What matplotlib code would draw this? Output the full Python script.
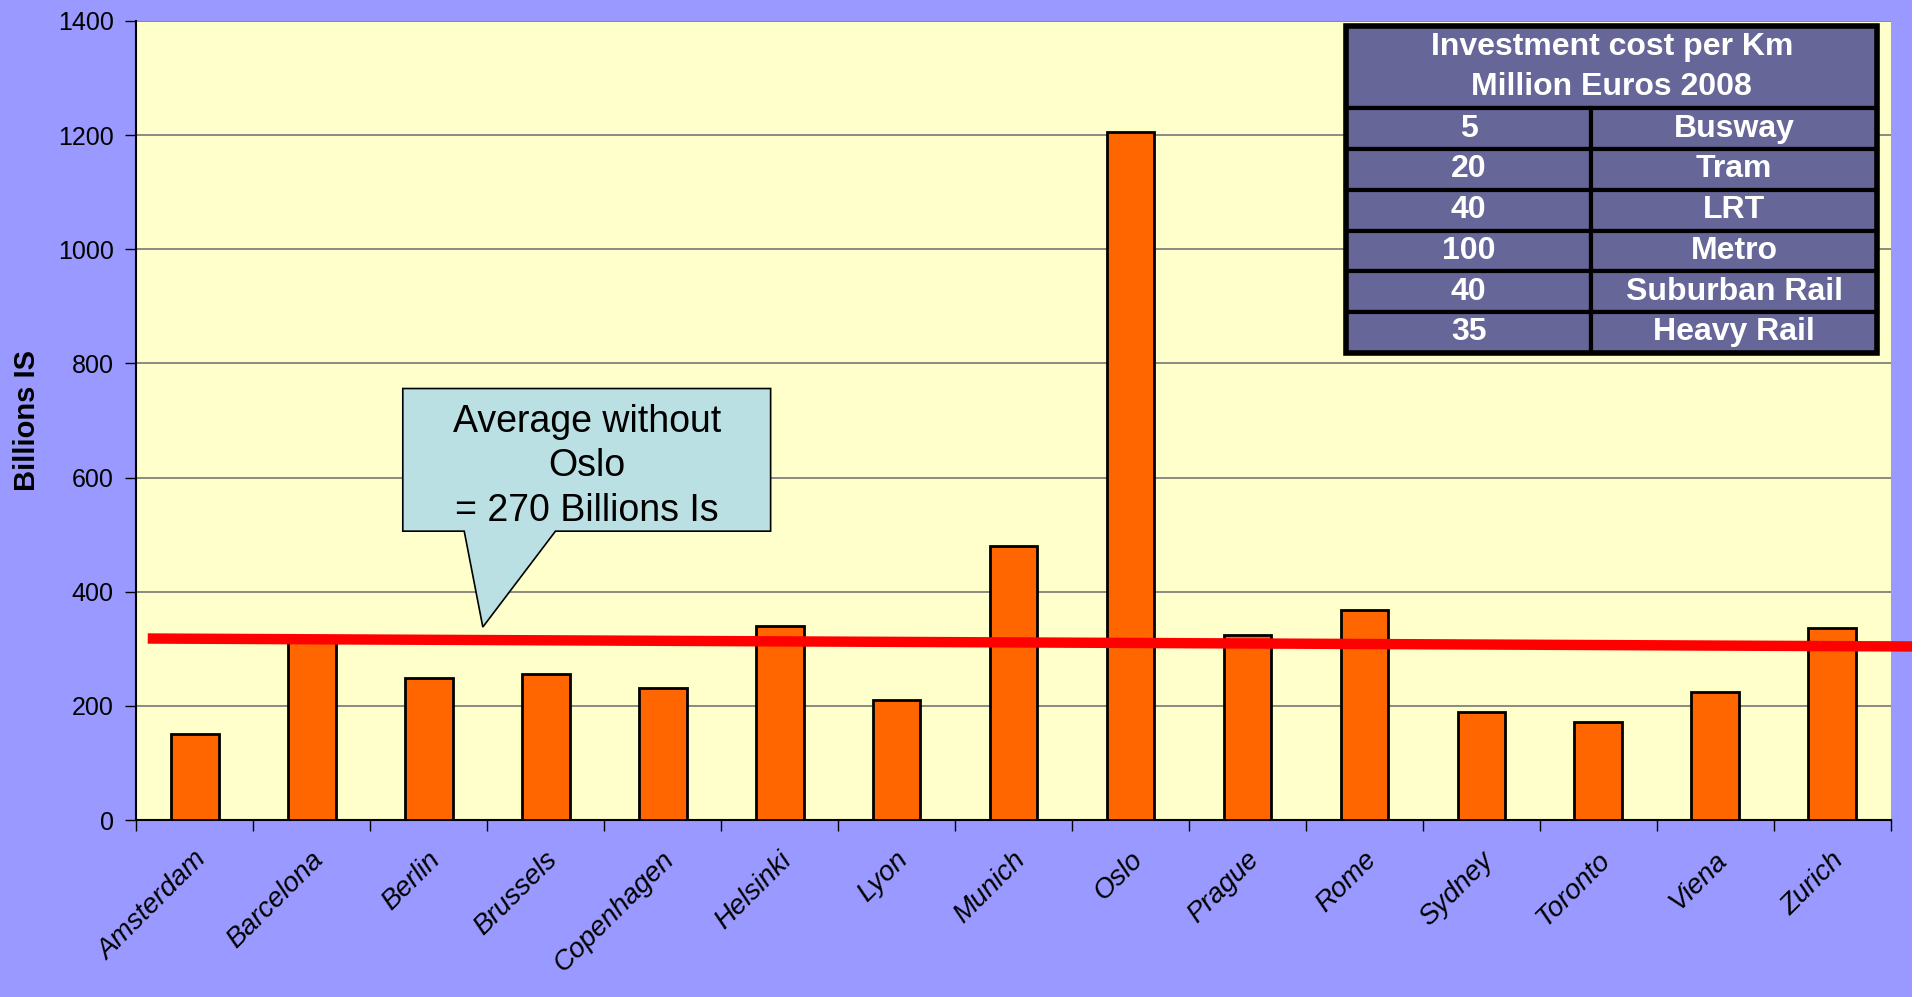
import numpy as np
import matplotlib
matplotlib.use('Agg')
import matplotlib.pyplot as plt
import matplotlib.transforms as mtrans
from matplotlib.patches import Polygon, Rectangle

plt.rcParams['font.family'] = ['Liberation Sans', 'DejaVu Sans']

# data
cities = ['Amsterdam', 'Barcelona', 'Berlin', 'Brussels', 'Copenhagen', 'Helsinki',
          'Lyon', 'Munich', 'Oslo', 'Prague', 'Rome', 'Sydney', 'Toronto', 'Viena', 'Zurich']
cost = [150, 320, 248, 256, 231, 340, 210, 480, 1205, 325, 368, 190, 172, 224, 336]

# hand drawn "average" line (slightly sloped in the original)
avg_x = [-0.4, 14.78]
avg_y = [318, 304]

table_head = 'Investment cost per Km\nMillion Euros 2008'
table_cost = ['5', '20', '40', '100', '40', '35']
table_mode = ['Busway', 'Tram', 'LRT', 'Metro', 'Suburban Rail', 'Heavy Rail']

callout_text = 'Average without\nOslo\n= 270 Billions Is'

fig = plt.figure(figsize=(19.27, 9.97), dpi=100, facecolor='#9999FF')
# white strip on the far right of the slide
fig.patches.append(Rectangle((0.9922, 0), 0.0078, 1, transform=fig.transFigure,
                             facecolor='white', edgecolor='none', zorder=0))
ax = fig.add_axes([0.0706, 0.1775, 0.9107, 0.8015])
ax.set_facecolor('#FFFFCC')

index = np.arange(len(cities))
ax.bar(index, cost, 0.41, color='#FF6600', edgecolor='black', linewidth=2, zorder=3)
ax.plot(avg_x, avg_y, color='#FF0000', linewidth=7.5, solid_capstyle='butt',
        clip_on=False, zorder=4)

ax.set_xlim(-0.5, len(cities) - 0.5)
ax.set_ylim(0, 1400)
ax.set_yticks(np.arange(0, 1401, 200))
ax.yaxis.grid(True, color='#777777', linewidth=1.2)
ax.set_axisbelow(True)
ax.tick_params(axis='y', labelsize=18, length=8, width=1, direction='out', pad=8)

ax.set_xticks(index)
ax.set_xticklabels(cities, rotation=45, ha='right', va='center', rotation_mode='anchor',
                   fontsize=20, style='italic')
ax.set_xticks(np.arange(-0.5, len(cities), 1), minor=True)
ax.tick_params(axis='x', which='major', length=0, pad=26)
ax.tick_params(axis='x', which='minor', length=8, width=1, direction='out')
offset = mtrans.ScaledTranslation(0.08, 0, fig.dpi_scale_trans)
for lab in ax.get_xticklabels():
    lab.set_transform(lab.get_transform() + offset)

for s in ['top', 'right']:
    ax.spines[s].set_visible(False)
ax.spines['left'].set_linewidth(1.5)
ax.spines['bottom'].set_linewidth(1.5)

ax.set_ylabel('Billions IS', fontsize=21, fontweight='bold', labelpad=12)

# callout
x0, x1, y0, y1 = 0.152, 0.3616, 0.3615, 0.540
px0, px1, tipx, tipy = 0.187, 0.239, 0.1976, 0.2415
pts = [(x0, y0), (px0, y0), (tipx, tipy), (px1, y0), (x1, y0), (x1, y1), (x0, y1)]
ax.add_patch(Polygon(pts, closed=True, transform=ax.transAxes, facecolor='#BBE0E3',
                     edgecolor='black', linewidth=1.2, zorder=6))
ax.text((x0 + x1) / 2, (y0 + y1) / 2 - 0.008, callout_text, transform=ax.transAxes,
        ha='center', va='center', fontsize=27, linespacing=1.3, zorder=7)

# table
tx0, tx1, tdiv = 0.6896, 0.9923, 0.829
ttop, thead, tbot = 0.9938, 0.8908, 0.5846
rh = (thead - tbot) / len(table_cost)
cell = dict(transform=ax.transAxes, facecolor='#666699', edgecolor='black',
            linewidth=3, zorder=6)
txt = dict(transform=ax.transAxes, ha='center', va='center', fontsize=23,
           fontweight='bold', color='white', zorder=7)
ax.add_patch(Rectangle((tx0, thead), tx1 - tx0, ttop - thead, **cell))
ax.text((tx0 + tx1) / 2, (thead + ttop) / 2, table_head, linespacing=1.45, **txt)
for i, (c, m) in enumerate(zip(table_cost, table_mode)):
    yb = thead - (i + 1) * rh
    ax.add_patch(Rectangle((tx0, yb), tdiv - tx0, rh, **cell))
    ax.add_patch(Rectangle((tdiv, yb), tx1 - tdiv, rh, **cell))
    ax.text((tx0 + tdiv) / 2, yb + rh / 2, c, **txt)
    ax.text((tdiv + tx1) / 2, yb + rh / 2, m, **txt)
ax.add_patch(Rectangle((tx0, tbot), tx1 - tx0, ttop - tbot, transform=ax.transAxes,
                       facecolor='none', edgecolor='black', linewidth=4, zorder=8))

plt.savefig('out.png', facecolor=fig.get_facecolor())
